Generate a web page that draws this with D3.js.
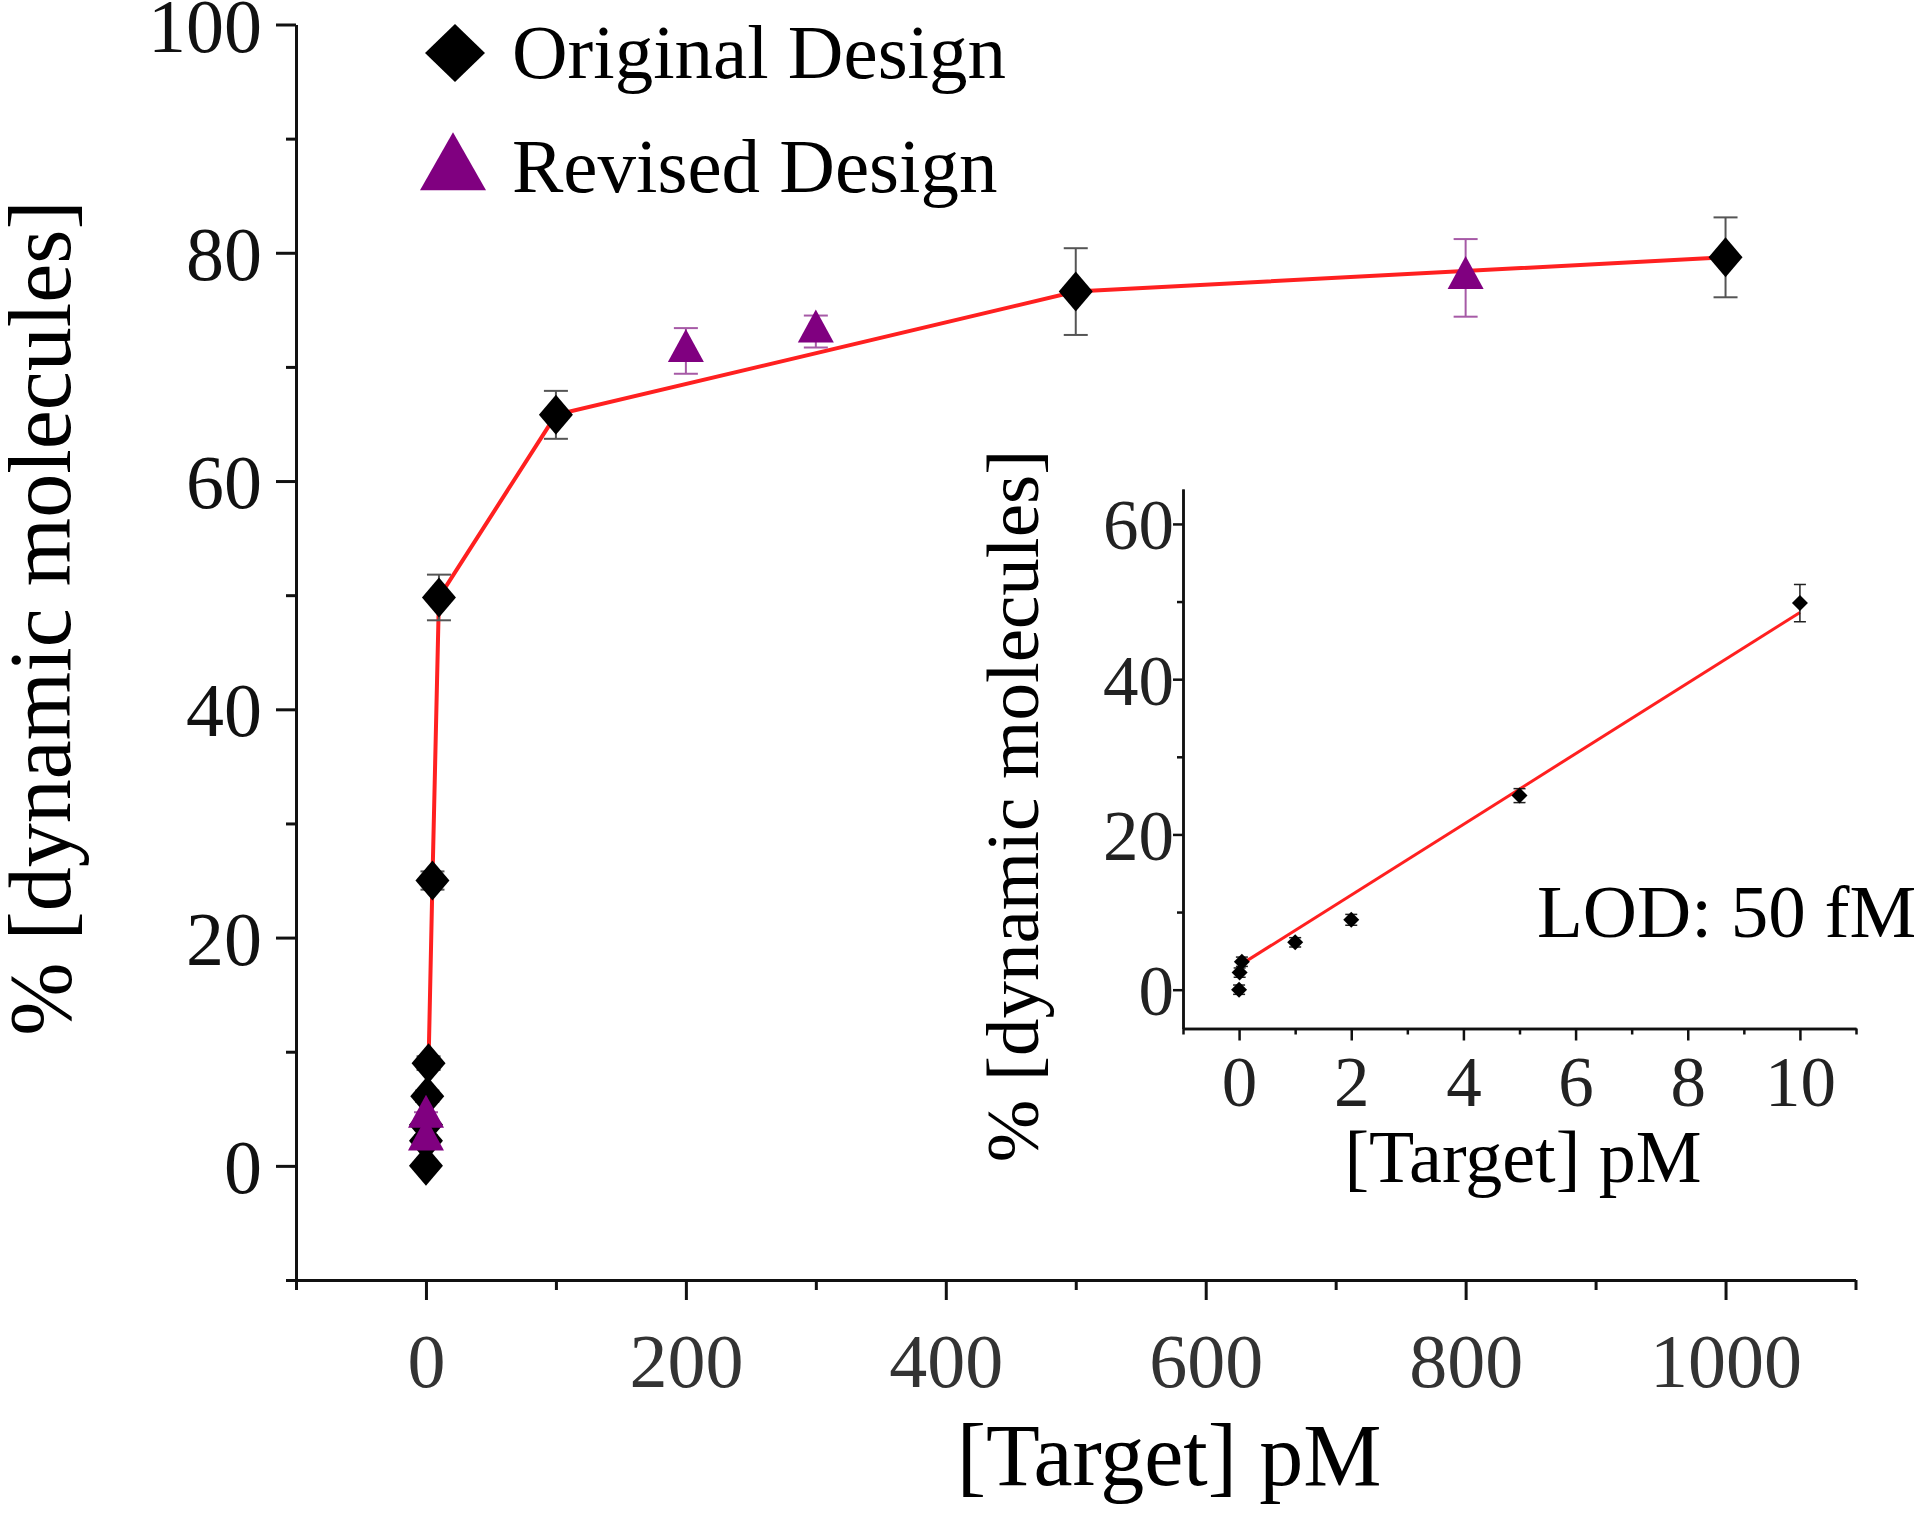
<!DOCTYPE html>
<html>
<head>
<meta charset="utf-8">
<script src="https://cdn.jsdelivr.net/npm/d3@7"></script>
<style>
  body { margin: 0; background: #fff; }
  svg { display: block; }
  svg text { font-family: "Liberation Serif", "Times New Roman", serif; }
  .domain { stroke: #111; stroke-width: 3px; }
  .tick line { stroke: #111; stroke-width: 3px; }
  .inset .domain, .inset .tick line { stroke-width: 2.5px; }
</style>
</head>
<body>
<div id="chart"></div>
<script>
// original design (black diamonds)
var origX   = [0, 0.01, 0.05, 1, 2, 5, 10, 100, 500, 1000];
var origY   = [0, 2.2, 3.6, 6.1, 9.0, 25.0, 49.8, 65.8, 76.6, 79.6];
var origErr = [0.4, 0.4, 0.4, 0.5, 0.6, 0.8, 2.0, 2.1, 3.8, 3.5];

// revised design (purple triangles)
var revX   = [0.01, 0.05, 200, 300, 800];
var revY   = [2.3, 4.3, 71.4, 73.1, 77.8];
var revErr = [0.4, 0.4, 2.0, 1.4, 3.4];

// inset: linear fit over the low range
var insetMax = 10;
var fitX = [0, 10];
var fitY = [3.1, 48.6];
var insetErr = [0.6, 0.6, 0.6, 0.6, 0.7, 0.9, 2.4];

var xTicks = [0, 200, 400, 600, 800, 1000];
var xMinor = [-100, 100, 300, 500, 700, 900, 1100];
var yTicks = [0, 20, 40, 60, 80, 100];
var yMinor = [-10, 10, 30, 50, 70, 90];
var ixTicks = [0, 2, 4, 6, 8, 10];
var ixMinor = [-1, 1, 3, 5, 7, 9, 11];
var iyTicks = [0, 20, 40, 60];
var iyMinor = [10, 30, 50];

var legendLabels = ["Original Design", "Revised Design"];

var colors = { orig: "#000", origErr: "#555", rev: "#800080", revErr: "#a65aa6", fit: "#ff2020" };

var svg = d3.select("#chart").append("svg")
  .attr("width", 1920)
  .attr("height", 1515);

function pts(xs, ys, es) {
  return xs.map(function(d, i) { return { x: d, y: ys[i], e: es ? es[i] : 0 }; });
}
var orig = pts(origX, origY, origErr);
var rev = pts(revX, revY, revErr);

function diamond(w, h) {
  return "M0," + (-h) + "L" + w + ",0L0," + h + "L" + (-w) + ",0Z";
}
function triangle(w, h) {
  // centred on the centroid
  return "M0," + (-2 * h / 3) + "L" + w + "," + (h / 3) + "L" + (-w) + "," + (h / 3) + "Z";
}
var fmt = d3.format("d");

// ---------------- main chart ----------------
var x = d3.scaleLinear().domain([-100, 1100]).range([296, 1855.5]);
var y = d3.scaleLinear().domain([-10, 100]).range([1280, 24.5]);

var main = svg.append("g").attr("class", "main");

// minor ticks first
main.append("g")
  .attr("transform", "translate(0,1280)")
  .call(d3.axisBottom(x).tickValues(xMinor).tickSize(10).tickSizeOuter(0).tickFormat(""));
main.append("g")
  .attr("transform", "translate(296,0)")
  .call(d3.axisLeft(y).tickValues(yMinor).tickSize(10).tickSizeOuter(0).tickFormat(""));

var gx = main.append("g")
  .attr("transform", "translate(0,1280)")
  .call(d3.axisBottom(x).tickValues(xTicks).tickSize(20).tickSizeOuter(0).tickFormat(fmt));
gx.selectAll(".tick text")
  .attr("y", 107).attr("dy", null)
  .style("font-size", "76px").attr("fill", "#333");

var gy = main.append("g")
  .attr("transform", "translate(296,0)")
  .call(d3.axisLeft(y).tickValues(yTicks).tickSize(20).tickSizeOuter(0).tickFormat(fmt));
gy.selectAll(".tick text")
  .attr("x", -34).attr("dy", "0.35em")
  .style("font-size", "76px").attr("fill", "#111");

main.append("text")
  .attr("x", 1169).attr("y", 1485)
  .attr("text-anchor", "middle")
  .style("font-size", "88px")
  .text("[Target] pM");

main.append("text")
  .attr("transform", "translate(70,618) rotate(-90)")
  .attr("text-anchor", "middle")
  .style("font-size", "88px")
  .text("% [dynamic molecules]");

// red connecting line through original design
var line = d3.line()
  .x(function(d) { return x(d.x); })
  .y(function(d) { return y(d.y); });

main.append("path")
  .datum(orig)
  .attr("fill", "none")
  .attr("stroke", colors.fit)
  .attr("stroke-width", 4)
  .attr("d", line);

function errorBars(g, data, xs, ys, color, cap, sw) {
  var eb = g.selectAll(null).data(data).enter().append("g")
    .attr("stroke", color).attr("stroke-width", sw);
  eb.append("line")
    .attr("x1", function(d) { return xs(d.x); }).attr("x2", function(d) { return xs(d.x); })
    .attr("y1", function(d) { return ys(d.y - d.e); }).attr("y2", function(d) { return ys(d.y + d.e); });
  eb.append("line")
    .attr("x1", function(d) { return xs(d.x) - cap; }).attr("x2", function(d) { return xs(d.x) + cap; })
    .attr("y1", function(d) { return ys(d.y + d.e); }).attr("y2", function(d) { return ys(d.y + d.e); });
  eb.append("line")
    .attr("x1", function(d) { return xs(d.x) - cap; }).attr("x2", function(d) { return xs(d.x) + cap; })
    .attr("y1", function(d) { return ys(d.y - d.e); }).attr("y2", function(d) { return ys(d.y - d.e); });
}

errorBars(main, orig, x, y, colors.origErr, 12, 2);
errorBars(main, rev, x, y, colors.revErr, 12, 2);

main.selectAll(".orig")
  .data(orig).enter().append("path")
  .attr("class", "orig")
  .attr("transform", function(d) { return "translate(" + x(d.x) + "," + y(d.y) + ")"; })
  .attr("d", diamond(17, 20))
  .attr("fill", colors.orig);

main.selectAll(".rev")
  .data(rev).enter().append("path")
  .attr("class", "rev")
  .attr("transform", function(d) { return "translate(" + x(d.x) + "," + y(d.y) + ")"; })
  .attr("d", triangle(18, 33))
  .attr("fill", colors.rev);

// legend
var legend = main.append("g");
legend.append("path")
  .attr("transform", "translate(455,53)")
  .attr("d", diamond(30, 29))
  .attr("fill", colors.orig);
legend.append("path")
  .attr("transform", "translate(453,171)")
  .attr("d", triangle(33, 58))
  .attr("fill", colors.rev);
legend.selectAll(".lt")
  .data(legendLabels).enter().append("text")
  .attr("class", "lt")
  .attr("x", 512)
  .attr("y", function(d, i) { return 78 + i * 114; })
  .style("font-size", "77px")
  .text(function(d) { return d; });

// ---------------- inset ----------------
var ix = d3.scaleLinear().domain([-1, 11]).range([1183, 1856]);
var iy = d3.scaleLinear().domain([-5, 64.5]).range([1028.5, 489]);

var inset = svg.append("g").attr("class", "inset");

inset.append("g")
  .attr("transform", "translate(0,1028.5)")
  .call(d3.axisBottom(ix).tickValues(ixMinor).tickSize(6).tickSizeOuter(0).tickFormat(""));
inset.append("g")
  .attr("transform", "translate(1183,0)")
  .call(d3.axisLeft(iy).tickValues(iyMinor).tickSize(6).tickSizeOuter(0).tickFormat(""));

var igx = inset.append("g")
  .attr("transform", "translate(0,1028.5)")
  .call(d3.axisBottom(ix).tickValues(ixTicks).tickSize(12).tickSizeOuter(0).tickFormat(fmt));
igx.selectAll(".tick text")
  .attr("y", 77).attr("dy", null)
  .style("font-size", "71px").attr("fill", "#222");

var igy = inset.append("g")
  .attr("transform", "translate(1183,0)")
  .call(d3.axisLeft(iy).tickValues(iyTicks).tickSize(10).tickSizeOuter(0).tickFormat(fmt));
igy.selectAll(".tick text")
  .attr("x", -9).attr("dy", "0.35em")
  .style("font-size", "71px").attr("fill", "#222");

inset.append("text")
  .attr("x", 1523).attr("y", 1182)
  .attr("text-anchor", "middle")
  .style("font-size", "74px")
  .text("[Target] pM");

inset.append("text")
  .attr("transform", "translate(1038,806) rotate(-90)")
  .attr("text-anchor", "middle")
  .style("font-size", "75px")
  .text("% [dynamic molecules]");

inset.append("text")
  .attr("x", 1537).attr("y", 937)
  .style("font-size", "75px")
  .text("LOD: 50 fM");

inset.append("path")
  .datum(pts(fitX, fitY))
  .attr("fill", "none")
  .attr("stroke", colors.fit)
  .attr("stroke-width", 3)
  .attr("d", d3.line().x(function(d) { return ix(d.x); }).y(function(d) { return iy(d.y); }));

var low = orig.filter(function(d) { return d.x <= insetMax; })
  .map(function(d, i) { return { x: d.x, y: d.y, e: insetErr[i] }; });

errorBars(inset, low, ix, iy, "#222", 6, 1.5);

inset.selectAll(".pt")
  .data(low).enter().append("path")
  .attr("class", "pt")
  .attr("transform", function(d) { return "translate(" + ix(d.x) + "," + iy(d.y) + ")"; })
  .attr("d", diamond(8, 8))
  .attr("fill", "#000");
</script>
</body>
</html>
